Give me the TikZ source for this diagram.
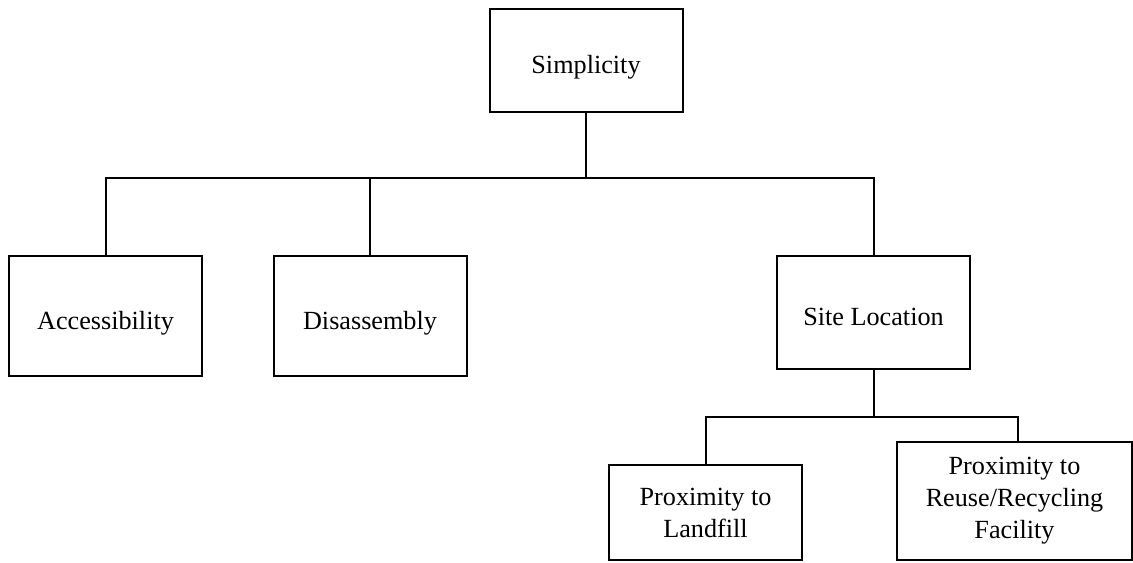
\documentclass[tikz,border=0pt]{standalone}
\usepackage{fontspec}
\setmainfont{Liberation Serif}

\tikzset{
  box/.style={draw, line width=1pt, rectangle, minimum width=96.5pt, inner sep=2pt,
              font=\fontsize{13.1}{16}\selectfont},
  onebox/.style={box, text height=16pt, text depth=2.8pt},
  multibox/.style={box, align=center},
  link/.style={line width=1pt}
}

\begin{document}
\begin{tikzpicture}[x=0.5pt, y=-0.5pt]

\useasboundingbox (0,0) rectangle (1133,562);

% Top of the tree
\node[onebox, minimum height=51.5pt] (simp) at (586,60.5) {Simplicity};

% Second level
\node[onebox, minimum height=60pt] (acc)  at (105.5,316) {Accessibility};
\node[onebox, minimum height=60pt] (dis)  at (370,316)   {Disassembly};
\node[onebox, minimum height=56.5pt] (site) at (873.5,312.5) {Site Location};

% Third level, under Site Location
\node[multibox, minimum height=47.5pt] (land) at (705.5,512.5) {Proximity to\\Landfill};
\node[multibox, minimum width=117.5pt, minimum height=59pt] (reuse) at (1014.5,501)
      {Proximity to\\Reuse/Recycling\\Facility};

% Branch points
\coordinate (bus) at (586,178);
\coordinate (sitebus) at (873.5,417);

% Draw the connectors
\draw[link] (simp.south) -- (bus);
\draw[link] (acc.north) |- (bus);
\draw[link] (dis.north) |- (bus);
\draw[link] (site.north) |- (bus);

\draw[link] (site.south) -- (sitebus);
\draw[link] (land.north) |- (sitebus);
\draw[link] ([xshift=1.75pt]reuse.north) |- (sitebus);

\end{tikzpicture}
\end{document}
